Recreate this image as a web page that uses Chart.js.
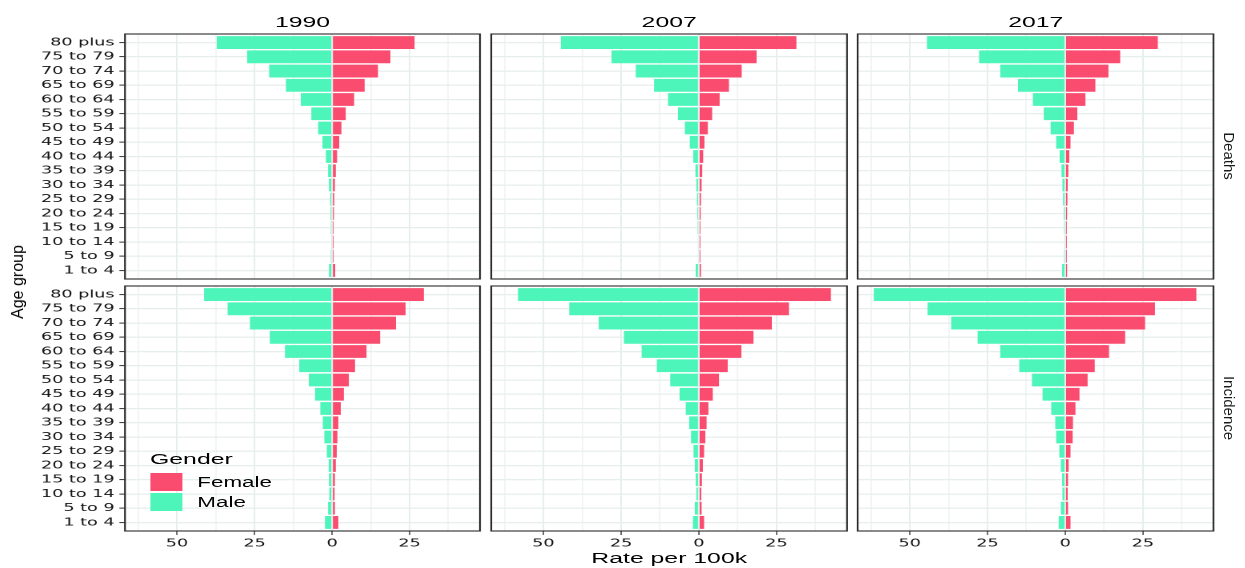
<!DOCTYPE html>
<html>
<head>
<meta charset="utf-8">
<script src="https://cdn.jsdelivr.net/npm/chart.js@4.4.1/dist/chart.umd.min.js"></script>
<style>
  html, body { margin: 0; padding: 0; background: #fff; overflow: hidden; }
  #page { position: relative; width: 1245px; height: 568px; }
  /* the reference is stretched sideways, so the chart layer is drawn narrow and widened */
  #wide { position: absolute; left: 0; top: 0; width: 778.125px; height: 568px;
          transform-origin: 0 0; transform: scaleX(1.6); }
  .panel { position: absolute; }
  .txt { position: absolute; font-family: "Liberation Sans", Arial, sans-serif; color: #000;
         white-space: nowrap; transform: translate(-50%, -50%); }
  .lbl { position: absolute; font-family: "Liberation Sans", Arial, sans-serif; color: #000;
         white-space: nowrap; transform: translateY(-50%); font-size: 14px; }
  .swatch { position: absolute; width: 19.8px; height: 17.6px; }
</style>
</head>
<body>
<div id="page">
  <div id="wide"></div>
</div>
<script>
// age groups, top row first
const ageGroups = [
    '80 plus', '75 to 79', '70 to 74', '65 to 69', '60 to 64', '55 to 59',
    '50 to 54', '45 to 49', '40 to 44', '35 to 39', '30 to 34', '25 to 29',
    '20 to 24', '15 to 19', '10 to 14', '5 to 9', '1 to 4'
];

const years = ['1990', '2007', '2017'];
const measures = ['Deaths', 'Incidence'];

// rates per 100k (male drawn to the left)
const deathsMale1990   = [37.2, 27.4, 20.3, 14.9, 10.1, 6.7, 4.5, 3.1, 2.0, 1.3, 1.0, 0.6, 0.5, 0.4, 0.3, 0.4, 1.0];
const deathsFemale1990 = [26.6, 18.8, 14.8, 10.5, 7.1, 4.4, 3.0, 2.3, 1.6, 1.2, 0.9, 0.7, 0.6, 0.5, 0.5, 0.5, 1.0];
const deathsMale2007   = [44.4, 28.1, 20.3, 14.4, 9.9, 6.7, 4.5, 2.9, 1.8, 1.1, 0.8, 0.6, 0.5, 0.4, 0.3, 0.3, 1.0];
const deathsFemale2007 = [31.4, 18.6, 13.8, 9.7, 6.7, 4.3, 2.9, 1.8, 1.4, 1.1, 0.9, 0.7, 0.6, 0.5, 0.5, 0.5, 0.7];
const deathsMale2017   = [44.5, 27.7, 20.9, 15.2, 10.4, 6.9, 4.7, 2.9, 1.8, 1.2, 0.9, 0.7, 0.5, 0.4, 0.3, 0.4, 1.0];
const deathsFemale2017 = [29.8, 17.7, 13.9, 9.7, 6.5, 3.9, 2.8, 1.7, 1.3, 1.0, 0.8, 0.7, 0.6, 0.5, 0.5, 0.5, 0.6];

const incMale1990   = [41.3, 33.7, 26.5, 20.1, 15.2, 10.6, 7.5, 5.5, 3.8, 3.0, 2.5, 1.7, 1.1, 1.0, 0.9, 1.3, 2.3];
const incFemale1990 = [29.6, 23.7, 20.6, 15.5, 11.1, 7.4, 5.4, 3.8, 2.8, 2.0, 1.7, 1.5, 1.2, 0.9, 0.8, 0.9, 2.0];
const incMale2007   = [58.2, 41.7, 32.2, 24.1, 18.4, 13.5, 9.2, 6.2, 4.2, 3.1, 2.5, 1.7, 1.3, 1.0, 0.8, 1.3, 1.9];
const incFemale2007 = [42.5, 29.0, 23.5, 17.6, 13.7, 9.3, 6.5, 4.5, 3.1, 2.5, 2.1, 1.7, 1.3, 1.0, 0.8, 0.9, 1.7];
const incMale2017   = [61.6, 44.3, 36.7, 28.2, 20.9, 14.8, 10.7, 7.3, 4.5, 3.2, 2.9, 1.9, 1.4, 1.0, 0.9, 1.4, 2.1];
const incFemale2017 = [42.2, 28.9, 25.7, 19.3, 14.1, 9.5, 7.2, 4.6, 3.3, 2.5, 2.4, 1.7, 1.1, 0.9, 0.8, 0.9, 1.7];

// x grid positions; labels only on multiples of 25
const xTickValues = [-62.5, -50, -37.5, -25, -12.5, 0, 12.5, 25, 37.5];

const femaleColor = '#F94C6E';
const maleColor = '#4DF5BA';
const gridColor = '#E6EEEE';

const S = 1.6;
const PAD = 2;
const panelLeft = [125, 491.7, 858.3];   // real px
const panelTop = [33.5, 285.5];
const panelW = 355;
const panelH = 245;

const panels = [
    [[deathsMale1990, deathsFemale1990], [deathsMale2007, deathsFemale2007], [deathsMale2017, deathsFemale2017]],
    [[incMale1990, incFemale1990], [incMale2007, incFemale2007], [incMale2017, incFemale2017]]
];

const tickFont = { family: 'DejaVu Sans', size: 11 };

const panelBorder = {
    id: 'panelBorder',
    afterDraw(chart) {
        const a = chart.chartArea;
        const ctx = chart.ctx;
        ctx.save();
        ctx.strokeStyle = '#2a2a2a';
        ctx.lineWidth = 1.1;
        ctx.strokeRect(a.left, a.top, a.right - a.left, a.bottom - a.top);
        ctx.restore();
    }
};

const wide = document.getElementById('wide');

function makePanel(row, col, male, female) {
    const showY = col === 0;
    const showX = row === 1;
    const yW = showY ? panelLeft[0] / S - PAD : 0;
    const xH = showX ? 22 : 0;

    const box = document.createElement('div');
    box.className = 'panel';
    box.style.left = (panelLeft[col] / S - yW - PAD) + 'px';
    box.style.top = (panelTop[row] - PAD) + 'px';
    box.style.width = (PAD + yW + panelW / S + PAD) + 'px';
    box.style.height = (PAD + panelH + xH + PAD) + 'px';
    const canvas = document.createElement('canvas');
    box.appendChild(canvas);
    wide.appendChild(box);

    const rowIdx = ageGroups.map((g, i) => i);

    return new Chart(canvas, {
        type: 'bar',
        data: {
            datasets: [{
                label: 'Male',
                data: male.map((v, i) => ({ x: -v, y: rowIdx[i] })),
                backgroundColor: maleColor,
                barPercentage: 0.9,
                categoryPercentage: 1,
                borderWidth: 0
            }, {
                label: 'Female',
                data: female.map((v, i) => ({ x: v, y: rowIdx[i] })),
                backgroundColor: femaleColor,
                barPercentage: 0.9,
                categoryPercentage: 1,
                borderWidth: 0
            }]
        },
        options: {
            indexAxis: 'y',
            responsive: true,
            maintainAspectRatio: false,
            devicePixelRatio: 2,
            animation: false,
            events: [],
            layout: { padding: PAD },
            plugins: { legend: { display: false }, tooltip: { enabled: false } },
            scales: {
                x: {
                    type: 'linear',
                    min: -66.8,
                    max: 47.7,
                    stacked: true,
                    afterBuildTicks: s => { s.ticks = xTickValues.map(v => ({ value: v })); },
                    afterFit: s => { s.height = xH; s.paddingLeft = 0; s.paddingRight = 0; },
                    ticks: {
                        display: showX,
                        autoSkip: false,
                        maxRotation: 0,
                        padding: 2,
                        font: tickFont,
                        color: '#151515',
                        callback: v => (v % 25 === 0 ? String(Math.abs(v)) : '')
                    },
                    grid: {
                        color: gridColor,
                        lineWidth: c => (c.tick && c.tick.value % 25 === 0 ? 1.05 : 0.6),
                        drawTicks: showX,
                        tickLength: 4,
                        tickWidth: 0.7,
                        tickColor: c => (c.tick && c.tick.value % 25 === 0 ? '#333' : 'rgba(0,0,0,0)')
                    },
                    border: { display: false }
                },
                y: {
                    type: 'linear',
                    reverse: true,
                    offset: false,
                    min: -0.6,
                    max: ageGroups.length - 0.4,
                    stacked: true,
                    afterBuildTicks: s => { s.ticks = rowIdx.map(v => ({ value: v })); },
                    afterFit: s => { s.width = yW; s.paddingTop = 0; s.paddingBottom = 0; },
                    ticks: {
                        display: showY,
                        autoSkip: false,
                        padding: 3,
                        font: tickFont,
                        color: '#151515',
                        callback: v => ageGroups[v]
                    },
                    grid: {
                        offset: false,
                        color: gridColor,
                        lineWidth: 1.2,
                        drawTicks: showY,
                        tickLength: 3.5,
                        tickWidth: 1,
                        tickColor: '#333'
                    },
                    border: { display: false }
                }
            }
        },
        plugins: [panelBorder]
    });
}

panels.forEach((rowData, r) => {
    rowData.forEach((pair, c) => makePanel(r, c, pair[0], pair[1]));
});

// texts inside the widened layer
function addText(parent, text, x, y, size, cls) {
    const d = document.createElement('div');
    d.className = cls || 'txt';
    d.textContent = text;
    d.style.left = x + 'px';
    d.style.top = y + 'px';
    d.style.fontSize = size + 'px';
    parent.appendChild(d);
    return d;
}

years.forEach((yr, c) => {
    addText(wide, yr, (panelLeft[c] + panelW / 2) / S, 21.7, 15.5);
});
addText(wide, 'Rate per 100k', (panelLeft[1] + panelW / 2) / S, 558, 15.5);

// legend
addText(wide, 'Gender', 150 / S, 459, 15.5, 'lbl');
const legendItems = [['Female', femaleColor], ['Male', maleColor]];
legendItems.forEach((it, i) => {
    const sw = document.createElement('div');
    sw.className = 'swatch';
    sw.style.left = (150 / S) + 'px';
    sw.style.top = (473.4 + i * 20) + 'px';
    sw.style.background = it[1];
    wide.appendChild(sw);
    addText(wide, it[0], 197.3 / S, 482.4 + i * 20, 14, 'lbl');
});

// rotated labels stay unstretched
const page = document.getElementById('page');
const ageTitle = addText(page, 'Age group', 18, 282, 16);
ageTitle.style.transform = 'translate(-50%, -50%) rotate(-90deg)';
measures.forEach((m, r) => {
    const t = addText(page, m, 1229, panelTop[r] + panelH / 2, 15);
    t.style.transform = 'translate(-50%, -50%) rotate(90deg)';
    t.style.color = '#1a1a1a';
});
</script>
</body>
</html>
